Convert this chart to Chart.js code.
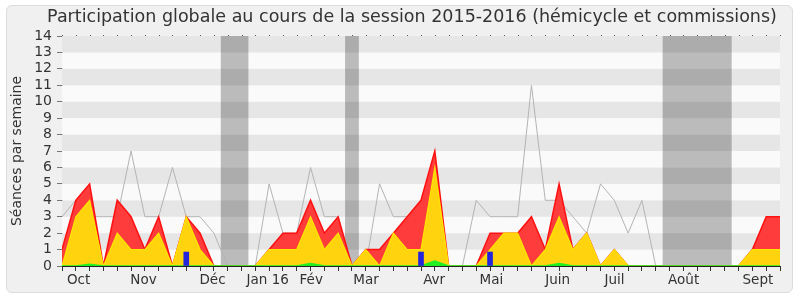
<!DOCTYPE html>
<html>
<head>
<meta charset="utf-8">
<script src="https://cdn.jsdelivr.net/npm/chart.js@4"></script>
<style>
  html, body { margin: 0; padding: 0; background: #fff; overflow: hidden; }
  #wrap { position: relative; width: 800px; height: 300px; overflow: hidden; }
  #frame {
    position: absolute; left: 6px; top: 5px; width: 785px; height: 286px;
    background: #f0f0f0; border: 1px solid #dcdcdc; border-radius: 6px;
  }
  #chart { position: absolute; left: 0; top: 0; }
</style>
</head>
<body>
<div id="wrap">
  <div id="frame"></div>
  <canvas id="chart" width="824" height="300"></canvas>
</div>
<script>
// weekly values, week 0 = start of October 2015
const total = [1, 4, 5, 0, 4, 3, 1, 3, 0, 3, 2, 0, 0, 0, 0, 1, 2, 2, 4, 2, 3, 0, 1, 1, 2, 3, 4, 7, 0, 0, 0, 2, 2, 2, 3, 1, 5, 1, 2, 0, 1, 0, 0, 0, 0, 0, 0, 0, 0, 0, 1, 3, 3];
const hemicycle = [0, 3, 4, 0, 2, 1, 1, 2, 0, 3, 1, 0, 0, 0, 0, 1, 1, 1, 3, 1, 2, 0, 1, 0, 2, 1, 1, 6, 0, 0, 0, 1, 2, 2, 0, 1, 3, 1, 2, 0, 1, 0, 0, 0, 0, 0, 0, 0, 0, 0, 1, 1, 1];
const questions = [0, 0, 0.1, 0, 0, 0, 0, 0, 0, 0, 0, 0, 0, 0, 0, 0, 0, 0, 0.15, 0, 0, 0, 0, 0, 0, 0, 0, 0.3, 0, 0, 0, 0, 0, 0, 0, 0, 0.15, 0, 0, 0, 0, 0, 0, 0, 0, 0, 0, 0, 0, 0, 0, 0, 0];
const mediane = [3, 4, 3, 3, 3, 7, 3, 3, 6, 3, 3, 2, 0, 0, 0, 5, 2, 2, 6, 3, 3, 0, 0, 5, 3, 3, 3, 4, 0, 0, 4, 3, 3, 3, 11, 4, 4, 3, 2, 5, 4, 2, 4, 0, 0, 0, 0, 0, 0, 0, 0, 1, 2];
const rapportWeeks = [9, 26, 31];
const rapportValues = [0.85, 0.85, 0.85];
const vacances = [[11.5, 13.5], [20.5, 21.5], [43.5, 48.5]];
const monthLabels = ["Oct", "Nov", "Déc", "Jan 16", "Fév", "Mar", "Avr", "Mai", "Juin", "Juil", "Août", "Sept"];
const monthPos = [1.2, 5.9, 10.9, 14.9, 18.05, 22.02, 26.95, 31.1, 35.9, 40.02, 45.02, 50.4];

const weeks = total.map((v, i) => i);
const asPoints = arr => arr.map((v, i) => ({ x: i, y: v }));

const backdrop = {
  id: "backdrop",
  beforeDatasetsDraw(chart) {
    const { ctx, chartArea: a, scales: { x, y } } = chart;
    ctx.save();
    for (let k = 0; k < 14; k++) {
      ctx.fillStyle = k % 2 ? "#e6e6e6" : "#fafafa";
      const top = y.getPixelForValue(k + 1);
      ctx.fillRect(a.left, top, a.right - a.left, y.getPixelForValue(k) - top);
    }
    ctx.fillStyle = "rgba(0,0,0,0.25)";
    vacances.forEach(([s, e]) => {
      const l = x.getPixelForValue(s);
      ctx.fillRect(l, a.top, x.getPixelForValue(e) - l, a.bottom - a.top);
    });
    ctx.fillStyle = "#555";
    weeks.forEach(w => ctx.fillRect(Math.round(x.getPixelForValue(w)), a.top - 1, 1, 1));
    ctx.restore();
  }
};

const monthSet = new Set(monthPos);

new Chart(document.getElementById("chart"), {
  type: "line",
  data: {
    datasets: [
      {
        type: "bar",
        data: rapportWeeks.map((w, i) => ({ x: w, y: rapportValues[i] })),
        backgroundColor: "#2424dc",
        barThickness: 5,
        order: 0
      },
      {
        data: asPoints(questions),
        borderColor: "#22ee22",
        backgroundColor: "#22ee22",
        borderWidth: 1.5,
        fill: "origin",
        order: 1
      },
      {
        data: asPoints(hemicycle),
        borderColor: "#ffe600",
        backgroundColor: "#ffd30e",
        borderWidth: 1.2,
        fill: "origin",
        order: 2
      },
      {
        data: asPoints(total),
        borderColor: "#ff1010",
        backgroundColor: "#ff3c3c",
        borderWidth: 1.5,
        fill: "origin",
        order: 3
      },
      {
        data: asPoints(mediane),
        borderColor: "#b4b4b4",
        borderWidth: 1,
        fill: false,
        order: 4
      }
    ]
  },
  options: {
    responsive: false,
    animation: false,
    devicePixelRatio: 1,
    layout: { padding: 0 },
    elements: { point: { radius: 0 }, line: { tension: 0 } },
    plugins: {
      legend: { display: false },
      tooltip: { enabled: false },
      title: {
        display: true,
        text: "Participation globale au cours de la session 2015-2016 (hémicycle et commissions)",
        color: "#333",
        font: { family: "DejaVu Sans", size: 17.5, weight: "normal" },
        padding: { top: 7, bottom: 8 }
      }
    },
    scales: {
      x: {
        type: "linear",
        min: 0,
        max: 52,
        offset: false,
        afterBuildTicks: axis => {
          axis.ticks = weeks.concat(monthPos).sort((a, b) => a - b).map(v => ({ value: v }));
        },
        afterFit: axis => { axis.height = 34; },
        ticks: {
          autoSkip: false,
          maxRotation: 0,
          padding: 1,
          color: "#333",
          font: { family: "DejaVu Sans", size: 13.5 },
          callback: value => monthSet.has(value) ? monthLabels[monthPos.indexOf(value)] : ""
        },
        grid: {
          offset: false,
          drawOnChartArea: false,
          tickLength: 5,
          tickColor: c => (c.tick && monthSet.has(c.tick.value)) ? "rgba(0,0,0,0)" : "#333"
        },
        border: { color: "#222", width: 1 }
      },
      y: {
        min: 0,
        max: 14,
        afterFit: axis => { axis.width = 62; },
        ticks: {
          stepSize: 1,
          autoSkip: false,
          padding: 5,
          color: "#333",
          font: { family: "DejaVu Sans", size: 14 }
        },
        grid: { drawOnChartArea: false, tickLength: 5, tickColor: "#777" },
        border: { display: true, color: "#333", width: 1 },
        title: {
          display: true,
          text: "Séances par semaine",
          color: "#333",
          font: { family: "DejaVu Sans", size: 14 },
          padding: { top: 9, bottom: 0 }
        }
      },
      spacer: {
        position: "right",
        min: 0,
        max: 1,
        afterFit: axis => { axis.width = 44; },
        ticks: { display: false },
        grid: { display: false },
        border: { display: false }
      }
    }
  },
  plugins: [backdrop]
});
</script>
</body>
</html>
